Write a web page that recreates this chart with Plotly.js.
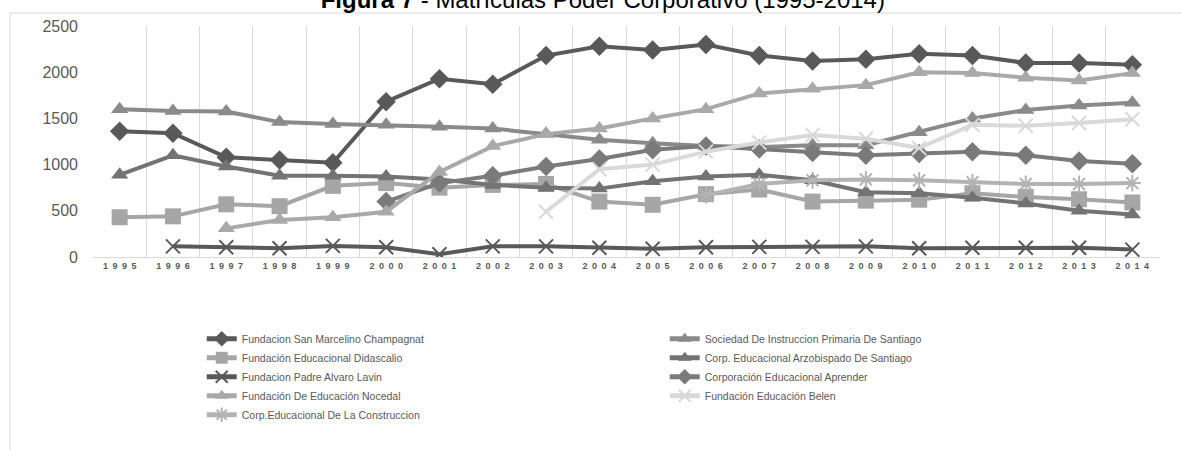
<!DOCTYPE html>
<html>
<head>
<meta charset="utf-8">
<script src="https://cdn.plot.ly/plotly-3.0.1.min.js"></script>
<style>
  html, body { margin: 0; padding: 0; background: #ffffff; }
  #chart { width: 1182px; height: 450px; }
</style>
</head>
<body>
<div id="chart"></div>
<script>
const years = [1995,1996,1997,1998,1999,2000,2001,2002,2003,2004,2005,2006,2007,2008,2009,2010,2011,2012,2013,2014];

const seriesNames = [
  "Fundacion San Marcelino Champagnat",
  "Sociedad De Instruccion Primaria De Santiago",
  "Fundación Educacional Didascalio",
  "Corp. Educacional Arzobispado De Santiago",
  "Fundacion Padre Alvaro Lavin",
  "Corporación Educacional Aprender",
  "Fundación De Educación Nocedal",
  "Fundación Educación Belen",
  "Corp.Educacional De La Construccion"
];

const champagnat   = [1360,1340,1080,1050,1020,1680,1930,1870,2180,2280,2240,2300,2180,2120,2140,2200,2180,2100,2100,2080];
const sociedad     = [1600,1580,1575,1460,1440,1430,1410,1390,1335,1270,1230,1200,1190,1210,1210,1350,1500,1590,1640,1670];
const didascalio   = [430,440,570,550,770,800,750,780,790,600,565,680,730,600,610,620,690,650,625,590];
const arzobispado  = [890,1100,980,880,880,870,840,780,750,740,820,870,890,830,700,690,640,580,500,460];
const lavin        = [null,115,105,95,120,105,30,115,115,100,90,105,110,110,115,95,100,100,100,80];
const aprender     = [null,null,null,null,null,600,800,880,980,1060,1160,1200,1170,1130,1100,1120,1140,1100,1040,1010];
const nocedal      = [null,null,310,400,430,490,920,1200,1330,1390,1500,1600,1770,1820,1860,2000,1990,1940,1910,1990];
const belen        = [null,null,null,null,null,null,null,null,490,950,1000,1140,1240,1320,1280,1180,1430,1420,1450,1490];
const construccion = [null,null,null,null,null,null,null,null,null,null,null,670,790,830,840,830,810,790,790,800];

const yTicks = [0,500,1000,1500,2000,2500];

const allValues = [champagnat, sociedad, didascalio, arzobispado, lavin, aprender, nocedal, belen, construccion];
const colors  = ["#595959","#8a8a8a","#a6a6a6","#737373","#595959","#7a7a7a","#a9a9a9","#d9d9d9","#b3b3b3"];
const symbols = ["diamond","triangle-up","square","triangle-up","x-thin-open","diamond","triangle-up","x-thin-open","asterisk-open"];
const sizes   = [15,15,16,15,14,15,15,14,14];

const xLabels = years.map(String);
const tickText = years.map(y => String(y).split('').join('\u2002'));

const traces = allValues.map((vals, i) => {
  const open = symbols[i].indexOf('open') >= 0;
  return {
    type: 'scatter',
    mode: 'lines+markers',
    name: seriesNames[i],
    x: xLabels,
    y: vals,
    line: { color: colors[i], width: 4 },
    marker: {
      symbol: symbols[i],
      size: sizes[i],
      color: colors[i],
      line: { color: colors[i], width: open ? 2 : 0 }
    },
    connectgaps: false,
    hoverinfo: 'x+y+name'
  };
});

const layout = {
  width: 1182,
  height: 450,
  paper_bgcolor: '#ffffff',
  plot_bgcolor: '#ffffff',
  margin: { l: 93, r: 23, t: 26, b: 193 },
  title: {
    text: '<b>Figura 7</b> - Matrículas Poder Corporativo (1995-2014)',
    font: { family: 'Liberation Sans, Arial, sans-serif', size: 24, color: '#000000' },
    x: 0.51, xanchor: 'center', xref: 'container',
    y: 1.0, yanchor: 'middle', yref: 'container'
  },
  xaxis: {
    type: 'category',
    categoryorder: 'array',
    categoryarray: xLabels,
    tickmode: 'array',
    tickvals: xLabels,
    ticktext: tickText,
    tickson: 'boundaries',
    ticks: '',
    showgrid: true,
    gridcolor: '#d9d9d9',
    gridwidth: 1,
    showline: true,
    linecolor: '#d9d9d9',
    linewidth: 1,
    zeroline: false,
    tickfont: { family: 'Liberation Sans, Arial, sans-serif', size: 9, color: '#595959', weight: 'bold' },
    range: [-0.5, 19.5],
    fixedrange: true
  },
  yaxis: {
    range: [0, 2500],
    tickmode: 'array',
    tickvals: yTicks,
    ticktext: yTicks.map(String),
    showgrid: false,
    zeroline: false,
    showline: false,
    ticks: '',
    ticklabelstandoff: 14,
    tickfont: { family: 'Liberation Sans, Arial, sans-serif', size: 16, color: '#595959' },
    fixedrange: true
  },
  showlegend: true,
  legend: {
    orientation: 'h',
    x: 0.102, xanchor: 'left',
    y: -0.291, yanchor: 'top',
    entrywidth: 418,
    entrywidthmode: 'pixels',
    traceorder: 'normal',
    font: { family: 'Liberation Sans, Arial, sans-serif', size: 10.5, color: '#595959' },
    itemsizing: 'constant',
    bgcolor: 'rgba(0,0,0,0)'
  },
  shapes: [{
    type: 'rect', xref: 'paper', yref: 'paper',
    x0: (10 - 93) / 1066, x1: (1200 - 93) / 1066,
    y0: (257 - 470) / 231, y1: (257 - 13) / 231,
    line: { color: '#d9d9d9', width: 1 },
    fillcolor: 'rgba(0,0,0,0)',
    layer: 'below'
  }]
};

Plotly.newPlot('chart', traces, layout, { displayModeBar: false, staticPlot: true });
</script>
</body>
</html>
